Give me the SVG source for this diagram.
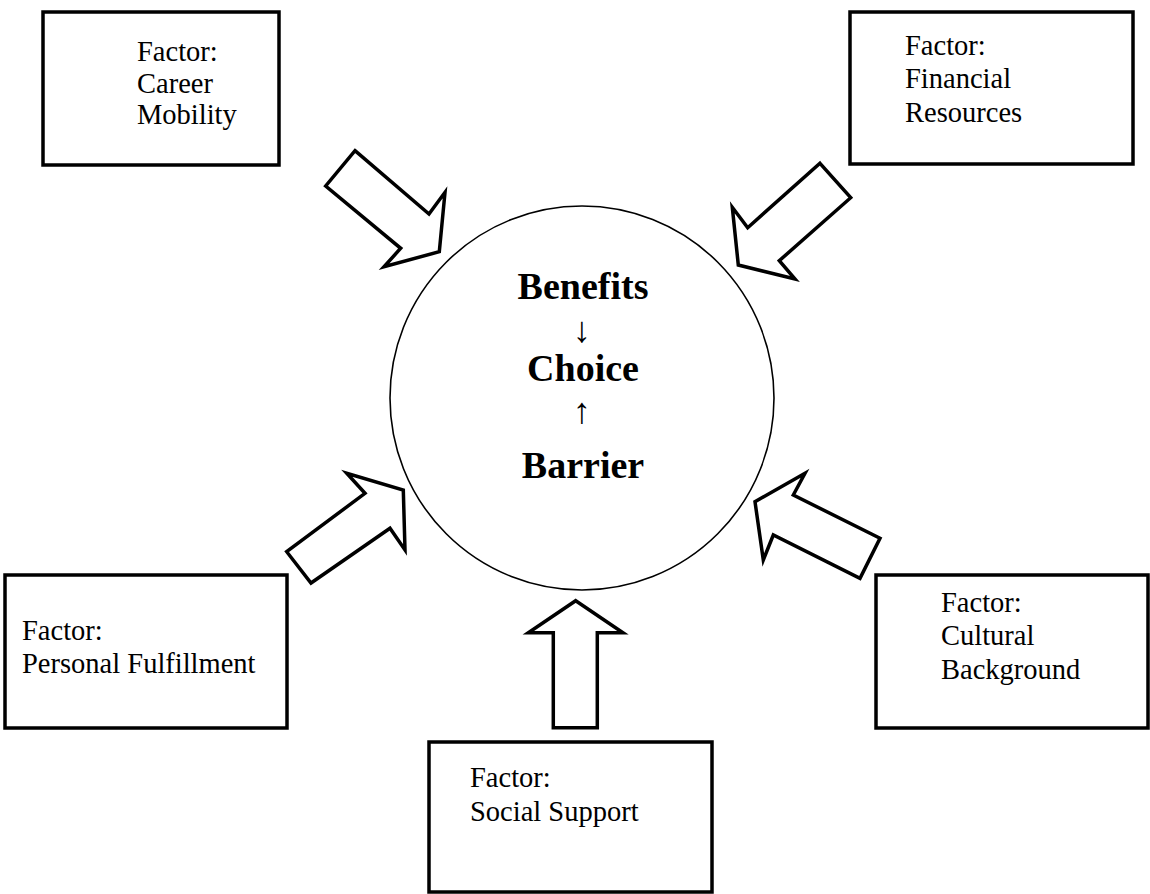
<svg xmlns="http://www.w3.org/2000/svg" width="1150" height="894" viewBox="0 0 1150 894">
<style>
.box{fill:#fff;stroke:#000;stroke-width:3.5}
.ft{font-family:"Liberation Serif","Times New Roman",serif;font-size:28.5px;fill:#000}
.ct{font-family:"Liberation Serif","Times New Roman",serif;font-size:38px;font-weight:bold;fill:#000;text-anchor:middle}
.ar{font-family:"Liberation Serif","Times New Roman",serif;font-size:36px;fill:#000;text-anchor:middle}
.blk{fill:#fff;stroke:#000;stroke-width:3.5;stroke-linejoin:miter}
</style>
<rect width="1150" height="894" fill="#fff"/>
<g id="center">
<circle cx="582" cy="398" r="192" fill="#fff" stroke="#000" stroke-width="1.6"/>
<text class="ct" x="583" y="299">Benefits</text>
<text class="ar" x="582" y="342">↓</text>
<text class="ct" x="583" y="381">Choice</text>
<text class="ar" x="582" y="423">↑</text>
<text class="ct" x="583" y="478">Barrier</text>
</g>
<g id="career">
<rect class="box" x="43" y="12" width="236" height="153"/>
<text class="ft" x="137" y="61">Factor:</text>
<text class="ft" x="137" y="93">Career</text>
<text class="ft" x="137" y="124">Mobility</text>
</g>
<g id="financial">
<rect class="box" x="850" y="12" width="283" height="152"/>
<text class="ft" x="905" y="55">Factor:</text>
<text class="ft" x="905" y="88">Financial</text>
<text class="ft" x="905" y="122">Resources</text>
</g>
<g id="personal">
<rect class="box" x="5" y="575" width="282" height="153"/>
<text class="ft" x="22" y="640">Factor:</text>
<text class="ft" x="22" y="673">Personal Fulfillment</text>
</g>
<g id="cultural">
<rect class="box" x="876" y="575" width="272" height="153"/>
<text class="ft" x="941" y="612">Factor:</text>
<text class="ft" x="941" y="645">Cultural</text>
<text class="ft" x="941" y="679">Background</text>
</g>
<g id="social">
<rect class="box" x="429" y="742" width="283" height="150"/>
<text class="ft" x="470" y="787">Factor:</text>
<text class="ft" x="470" y="821">Social Support</text>
</g>
<g id="connectors">
<polygon class="blk" points="355,150.7 429,214 445,192.3 439.3,251.7 384,266.7 400.7,248.3 325.7,186"/>
<polygon class="blk" points="820,163.3 850.7,197.7 779.3,260.7 795,279 738.3,265 732.3,207.3 747.7,227.7"/>
<polygon class="blk" points="365,493.3 346.7,473.3 403.3,490 405,550 390,528.3 311,583 286.7,551.7"/>
<polygon class="blk" points="793.3,495 805,473.3 755,501.7 763.3,560 773.3,535 860,578.3 880,538.3"/>
<polygon class="blk" points="575.7,600.7 623,632.7 597.3,632.7 597.3,727.7 553.3,727.7 553.3,632.7 528.3,632.7"/>
</g>
</svg>
